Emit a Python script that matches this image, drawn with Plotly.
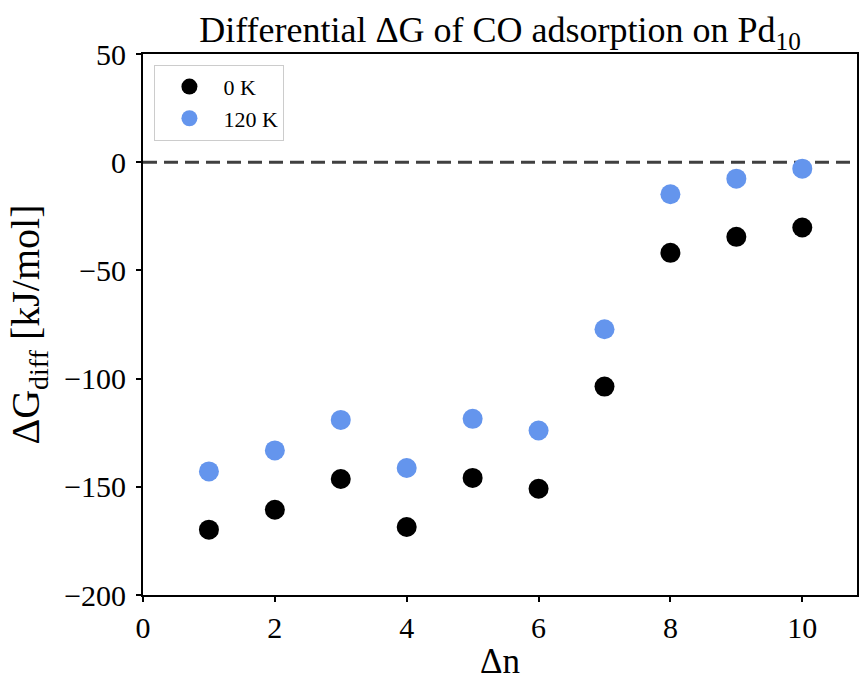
import plotly.graph_objects as go

dn = [1, 2, 3, 4, 5, 6, 7, 8, 9, 10]
g_0K = [-169.8, -160.6, -146.4, -168.6, -145.9, -150.9, -103.7, -41.9, -34.5, -30.2]
g_120K = [-142.9, -133.2, -119.1, -141.3, -118.6, -124.0, -77.2, -14.8, -7.6, -3.0]
x_ticks = [0, 2, 4, 6, 8, 10]
y_ticks = [-200, -150, -100, -50, 0, 50]

FONT = "Liberation Serif, Times New Roman, serif"

fig = go.Figure()
fig.add_trace(go.Scatter(x=dn, y=g_0K, mode="markers", name="0 K",
                         marker=dict(color="black", size=20, line=dict(width=0))))
fig.add_trace(go.Scatter(x=dn, y=g_120K, mode="markers", name="120 K",
                         marker=dict(color="#6495ED", size=20, line=dict(width=0))))

fig.add_shape(type="line", xref="paper", yref="y", x0=0, x1=1, y0=0, y1=0,
              line=dict(color="#404040", width=3, dash="14px,7px"), layer="below")

fig.update_layout(
    width=859, height=681,
    margin=dict(l=143, r=0, t=54, b=86),
    paper_bgcolor="white", plot_bgcolor="white",
    font=dict(family=FONT, color="black"),
    title=dict(text="Differential ΔG of CO adsorption on Pd<sub>10</sub>",
               x=0.5, xref="paper", xanchor="center", y=1, yref="paper", yanchor="bottom",
               pad=dict(b=12), font=dict(size=36, family=FONT, color="black")),
    showlegend=True,
    legend=dict(x=0.016, y=0.98, xanchor="left", yanchor="top",
                bgcolor="white", bordercolor="#cccccc", borderwidth=1,
                font=dict(size=22, family=FONT), itemsizing="trace",
                itemwidth=58),
)
fig.update_xaxes(range=[0, 10.83], tickvals=x_ticks, ticks="outside", ticklen=5,
                 tickwidth=1.5, tickcolor="black", showline=True, linecolor="black",
                 linewidth=1.8, mirror=True, showgrid=False, zeroline=False,
                 tickfont=dict(size=30, family=FONT),
                 title=dict(text="Δn", font=dict(size=35, family=FONT), standoff=6))
fig.update_yaxes(range=[-200, 50], tickvals=y_ticks, ticks="outside", ticklen=5,
                 tickwidth=1.5, tickcolor="black", showline=True, linecolor="black",
                 linewidth=1.8, mirror=True, showgrid=False, zeroline=False,
                 tickfont=dict(size=30, family=FONT), ticklabelstandoff=4,
                 title=dict(text="ΔG<sub>diff</sub> [kJ/mol]", font=dict(size=40, family=FONT),
                            standoff=12))

fig.write_html("out.html")
